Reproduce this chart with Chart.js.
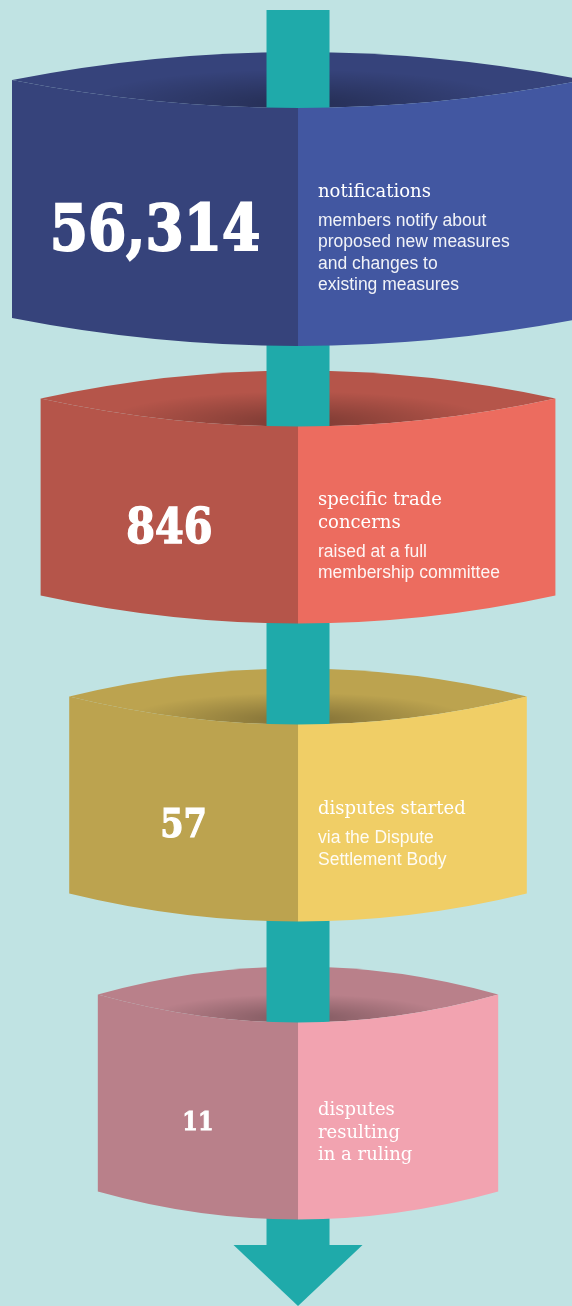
<!DOCTYPE html>
<html>
<head>
<meta charset="utf-8">
<script src="https://cdn.jsdelivr.net/npm/chart.js@4.4.1/dist/chart.umd.min.js"></script>
<style>
  html, body { margin: 0; padding: 0; background: #c0e3e3; }
  canvas { display: block; }
</style>
</head>
<body>
<canvas id="funnel" width="572" height="1306"></canvas>
<script>
// stages of the funnel, top to bottom
const stages = ["notifications", "specific trade concerns", "disputes started", "disputes resulting in a ruling"];
const counts = [56314, 846, 57, 11];
const titleLines = [
    ["notifications"],
    ["specific trade", "concerns"],
    ["disputes started"],
    ["disputes", "resulting", "in a ruling"]
];
const noteLines = [
    ["members notify about", "proposed new measures", "and changes to", "existing measures"],
    ["raised at a full", "membership committee"],
    ["via the Dispute", "Settlement Body"],
    []
];

// styles
const darkColors = ["#36437b", "#b5554a", "#bca34f", "#b9808a"];
const lightColors = ["#4257a1", "#ec6c5f", "#f0ce66", "#f2a3b0"];
const numberSizes = [64, 48, 39, 26];
const teal = "#1faaaa";
const RY = 28;

function bandGeom(chart, i) {
    const el = chart.getDatasetMeta(i).data[i];
    const cx = chart.scales.x.getPixelForValue(0);
    const half = el.height / 2;
    return {
        xl: Math.min(el.base, el.x),
        xr: Math.max(el.base, el.x),
        cx: cx,
        y: el.y,
        top: el.y - half,
        bot: el.y + half
    };
}

function lensPath(ctx, g) {
    ctx.beginPath();
    ctx.moveTo(g.xl, g.top);
    ctx.quadraticCurveTo(g.cx, g.top - 2 * RY, g.xr, g.top);
    ctx.quadraticCurveTo(g.cx, g.top + 2 * RY, g.xl, g.top);
    ctx.closePath();
}

function facePath(ctx, g) {
    ctx.beginPath();
    ctx.moveTo(g.xl, g.top);
    ctx.quadraticCurveTo(g.cx, g.top + 2 * RY, g.xr, g.top);
    ctx.lineTo(g.xr, g.bot);
    ctx.quadraticCurveTo(g.cx, g.bot + 2 * RY, g.xl, g.bot);
    ctx.closePath();
}

const funnelPlugin = {
    id: "funnelBands",
    afterDatasetsDraw(chart) {
        const ctx = chart.ctx;
        const area = chart.chartArea;
        const geoms = stages.map((s, i) => bandGeom(chart, i));
        const cx = geoms[0].cx;

        // inside of each band (back wall seen through the opening)
        geoms.forEach((g, i) => {
            ctx.save();
            lensPath(ctx, g);
            ctx.fillStyle = darkColors[i];
            ctx.fill();
            ctx.clip();
            ctx.translate(g.cx, g.top + RY - 4);
            ctx.scale(1, 0.16);
            const r = (g.xr - g.xl) * 0.38;
            const grad = ctx.createRadialGradient(0, 0, 0, 0, 0, r);
            grad.addColorStop(0, "rgba(0,0,0,0.32)");
            grad.addColorStop(1, "rgba(0,0,0,0)");
            ctx.fillStyle = grad;
            ctx.fillRect(-r, -r, 2 * r, 2 * r);
            ctx.restore();
        });

        // the stem and arrow head
        const stemHalf = 31.5;
        const arrowTop = area.bottom + 3;
        ctx.save();
        ctx.fillStyle = teal;
        ctx.fillRect(cx - stemHalf, area.top - 40, stemHalf * 2, arrowTop - area.top + 41);
        ctx.beginPath();
        ctx.moveTo(cx - 64.5, arrowTop);
        ctx.lineTo(cx + 64.5, arrowTop);
        ctx.lineTo(cx, chart.height);
        ctx.closePath();
        ctx.fill();
        ctx.restore();

        // front faces
        geoms.forEach((g, i) => {
            ctx.save();
            facePath(ctx, g);
            ctx.clip();
            ctx.fillStyle = darkColors[i];
            ctx.fillRect(g.xl - 1, g.top - 1, g.cx - g.xl + 1, g.bot - g.top + 2 * RY + 2);
            ctx.fillStyle = lightColors[i];
            ctx.fillRect(g.cx, g.top - 1, g.xr - g.cx + 1, g.bot - g.top + 2 * RY + 2);
            ctx.restore();
        });

        // text
        geoms.forEach((g, i) => {
            ctx.save();
            ctx.fillStyle = "#ffffff";
            ctx.strokeStyle = "#ffffff";
            const size = numberSizes[i];
            ctx.font = "bold " + size + "px 'DejaVu Serif', serif";
            ctx.textAlign = "center";
            ctx.textBaseline = "alphabetic";
            const label = counts[i].toLocaleString("en-US");
            ctx.save();
            ctx.translate((g.xl + g.cx) / 2, g.y + 28 + size * 0.365);
            ctx.scale(0.86, 1);
            ctx.lineWidth = size / 32;
            ctx.fillText(label, 0, 0);
            ctx.strokeText(label, 0, 0);
            ctx.restore();

            // description block, centred on the front face
            const titles = titleLines[i];
            const notes = noteLines[i];
            let last = (titles.length - 1) * 22.5;
            if (notes.length) last += 29 + (notes.length - 1) * 21.5;
            const blockCenter = (-13 + last + 4) / 2;
            let b = g.y + 40 - blockCenter;
            const tx = g.cx + 20;
            ctx.textAlign = "left";
            ctx.font = "18px 'DejaVu Serif', serif";
            titles.forEach((t, k) => ctx.fillText(t, tx, b + k * 22.5));
            b += (titles.length - 1) * 22.5 + 29;
            ctx.font = "17.5px 'Liberation Sans', Arial, sans-serif";
            ctx.fillStyle = "rgba(255,255,255,0.93)";
            notes.forEach((t, k) => ctx.fillText(t, tx, b + k * 21.5));
            ctx.restore();
        });
    }
};

const datasets = stages.map((s, i) => ({
    label: s,
    data: stages.map((t, j) => j === i ? [-(100 - 10 * i), 100 - 10 * i] : null),
    backgroundColor: "rgba(0,0,0,0)",
    borderWidth: 0,
    barThickness: i === 0 ? 238 : 197,
    grouped: false
}));

const ctx = document.getElementById("funnel").getContext("2d");
const funnelChart = new Chart(ctx, {
    type: "bar",
    data: {
        labels: stages,
        datasets: datasets
    },
    options: {
        responsive: false,
        animation: false,
        events: [],
        indexAxis: "y",
        layout: { padding: { top: 50, bottom: 64, left: 0, right: 0 } },
        plugins: {
            legend: { display: false },
            tooltip: { enabled: false }
        },
        scales: {
            x: { type: "linear", min: -104.2, max: 95.8, display: false },
            y: { type: "category", display: false }
        }
    },
    plugins: [funnelPlugin]
});
</script>
</body>
</html>
